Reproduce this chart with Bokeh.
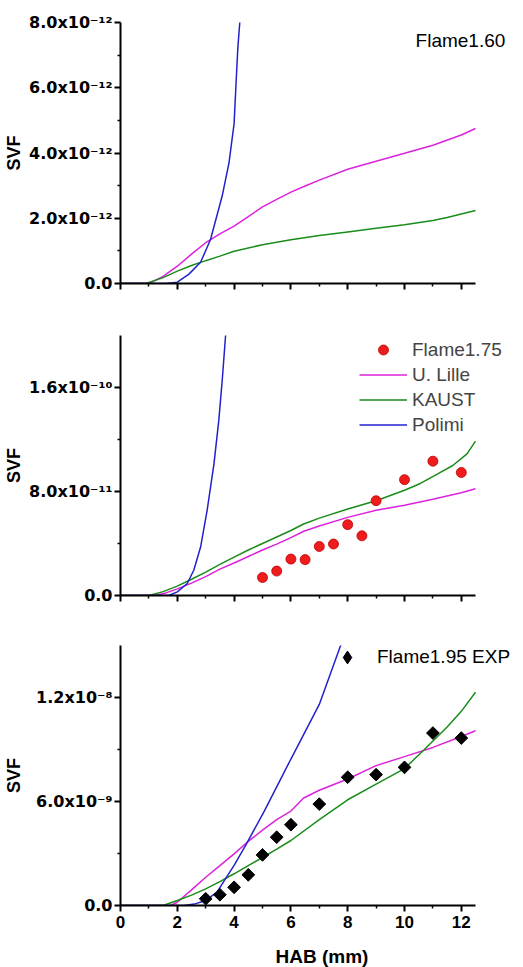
import numpy as np
from bokeh.plotting import figure
from bokeh.layouts import column
from bokeh.models import Range1d, FixedTicker, Label, Legend, LegendItem
from bokeh.embed import file_html
from bokeh.resources import INLINE

# ---------------- data ----------------
# x ticks (HAB, mm)
x_ticks = [0, 2, 4, 6, 8, 10, 12]
x_minor = [1, 3, 5, 7, 9, 11]
x_labels = ["0", "2", "4", "6", "8", "10", "12"]

# Panel 1: Flame1.60 (values x 1e-12)
p1_scale = 1e-12
lille1_x = [0, 1.0, 1.5, 2, 2.5, 3, 3.5, 4, 4.5, 5, 5.5, 6, 6.5, 7, 8, 9, 10, 11, 12, 12.5]
lille1_y = [0, 0, 0.22, 0.53, 0.9, 1.25, 1.52, 1.76, 2.05, 2.35, 2.58, 2.8, 2.99, 3.17, 3.5, 3.75, 3.99, 4.24, 4.55, 4.75]
kaust1_x = [0, 0.9, 1.5, 2, 2.5, 3, 3.5, 4, 5, 6, 7, 8, 9, 10, 11, 11.5, 12, 12.5]
kaust1_y = [0, 0, 0.18, 0.38, 0.55, 0.7, 0.84, 0.99, 1.19, 1.34, 1.47, 1.58, 1.69, 1.8, 1.93, 2.02, 2.13, 2.24]
polimi1_x = [0, 1.6, 2, 2.4, 2.82, 3.17, 3.58, 3.82, 4.0, 4.07, 4.13, 4.2, 4.25]
polimi1_y = [0, 0, 0.04, 0.28, 0.65, 1.35, 2.68, 3.7, 4.9, 6.16, 7.2, 8.0, 8.6]
y1_ticks = [0, 2e-12, 4e-12, 6e-12, 8e-12]
y1_minor = [1e-12, 3e-12, 5e-12, 7e-12]
y1_labels = ["0.0", "2.0x10\u207b\u00b9\u00b2", "4.0x10\u207b\u00b9\u00b2", "6.0x10\u207b\u00b9\u00b2", "8.0x10\u207b\u00b9\u00b2"]

# Panel 2: Flame1.75 (values x 1e-11)
p2_scale = 1e-11
exp175_x = [5, 5.5, 6, 6.5, 7, 7.5, 8, 8.5, 9, 10, 11, 12]
exp175_y = [1.38, 1.88, 2.8, 2.76, 3.77, 3.96, 5.45, 4.59, 7.29, 8.91, 10.33, 9.46]
lille2_x = [0, 1.2, 1.6, 2, 2.5, 3, 3.5, 4, 4.5, 5, 5.5, 6, 6.45, 7, 8, 9, 10, 11, 12, 12.5]
lille2_y = [0, 0, 0.2, 0.51, 0.95, 1.45, 2.03, 2.5, 3.0, 3.5, 3.95, 4.45, 4.94, 5.35, 6.01, 6.55, 6.95, 7.4, 7.9, 8.21]
kaust2_x = [0, 1.0, 1.5, 2, 2.5, 3, 3.5, 4, 4.5, 5, 5.5, 6, 6.45, 7, 8, 9, 10, 10.56, 11.2, 11.7, 12.2, 12.5]
kaust2_y = [0, 0, 0.3, 0.72, 1.25, 1.8, 2.4, 2.95, 3.5, 4.0, 4.5, 5.0, 5.5, 5.95, 6.65, 7.29, 8.1, 8.62, 9.4, 10.0, 10.9, 11.87]
polimi2_x = [0, 1.7, 2, 2.35, 2.58, 2.82, 3.05, 3.29, 3.46, 3.58, 3.7, 3.75]
polimi2_y = [0, 0, 0.28, 0.92, 1.94, 3.73, 6.55, 10.1, 13.45, 16.5, 20.0, 21.5]
y2_ticks = [0, 8e-11, 1.6e-10]
y2_minor = [4e-11, 1.2e-10]
y2_labels = ["0.0", "8.0x10\u207b\u00b9\u00b9", "1.6x10\u207b\u00b9\u2070"]

# Panel 3: Flame1.95 (values x 1e-9)
p3_scale = 1e-9
exp195_x = [3, 3.5, 4, 4.5, 5, 5.5, 6, 7, 8, 9, 10, 11, 12]
exp195_y = [0.39, 0.62, 1.05, 1.77, 2.92, 3.94, 4.66, 5.85, 7.4, 7.55, 7.97, 9.95, 9.66]
lille3_x = [0, 1.76, 2, 2.5, 3, 3.5, 4, 4.5, 5, 5.5, 6, 6.45, 7, 8, 9, 10, 11, 12, 12.5]
lille3_y = [0, 0, 0.19, 0.9, 1.63, 2.3, 2.98, 3.7, 4.35, 4.95, 5.45, 6.2, 6.65, 7.3, 8.07, 8.59, 9.12, 9.75, 10.08]
kaust3_x = [0, 1.5, 2, 2.5, 3, 3.5, 4, 4.5, 5, 5.5, 6, 7, 8, 9, 10, 10.7, 11.5, 12, 12.5]
kaust3_y = [0, 0, 0.29, 0.6, 0.96, 1.38, 1.83, 2.3, 2.77, 3.25, 3.75, 4.95, 6.1, 7.0, 7.9, 9.0, 10.3, 11.2, 12.3]
polimi3_x = [0, 2.23, 2.6, 3.0, 3.4, 3.66, 4.0, 4.4, 5.05, 6, 7, 7.75, 7.9]
polimi3_y = [0, 0, 0.08, 0.29, 0.77, 1.45, 2.31, 3.46, 5.4, 8.45, 11.6, 15.0, 15.5]
y3_ticks = [0, 6e-9, 1.2e-8]
y3_minor = [3e-9, 9e-9]
y3_labels = ["0.0", "6.0x10\u207b\u2079", "1.2x10\u207b\u2078"]

C_LILLE = "#dd22dd"
C_KAUST = "#1a8c1a"
C_POLIMI = "#2222cc"
FONT = "Liberation Sans"
TICK_FONT = "DejaVu Sans"

X_END = 12.5          # where the drawn x axis stops
X_VIEW = 14.19        # frame extends to the right for the legends / labels


def scaled(vals, s):
    return [v * s for v in vals]


def make_fig(ymax, yt, ym, ylab, top, fh, bottom, show_x, ylabel_standoff):
    p = figure(output_backend="svg", toolbar_location=None,
               frame_width=403, frame_height=fh,
               x_range=Range1d(0, X_VIEW), y_range=Range1d(0, ymax),
               min_border_left=120, min_border_right=0,
               min_border_top=top, min_border_bottom=bottom)
    p.outline_line_color = None
    p.xgrid.visible = False
    p.ygrid.visible = False
    for ax in (p.xaxis[0], p.yaxis[0]):
        ax.axis_line_width = 2
        ax.axis_line_color = "black"
        ax.major_tick_line_width = 2
        ax.major_tick_in = 0
        ax.major_tick_out = 6
        ax.minor_tick_line_width = 1.5
        ax.minor_tick_in = 0
        ax.minor_tick_out = 3
        ax.major_label_text_font_style = "bold"
        ax.major_label_text_color = "black"
        ax.axis_label_text_font = FONT
        ax.axis_label_text_font_style = "bold"
        ax.axis_label_text_color = "black"
    p.xaxis.bounds = (0, X_END)
    p.xaxis.ticker = FixedTicker(ticks=x_ticks, minor_ticks=x_minor)
    p.xaxis.major_label_text_font = FONT
    p.xaxis.major_label_text_font_size = "17px"
    p.xaxis.major_label_standoff = 4
    p.yaxis.ticker = FixedTicker(ticks=yt, minor_ticks=ym)
    p.yaxis.major_label_overrides = {t: l for t, l in zip(yt, ylab)}
    p.yaxis.major_label_text_font = TICK_FONT
    p.yaxis.major_label_text_font_size = "16px"
    p.yaxis.major_label_standoff = 2
    p.yaxis.axis_label = "SVF"
    p.yaxis.axis_label_text_font_size = "18px"
    p.yaxis.axis_label_standoff = ylabel_standoff
    if show_x:
        p.xaxis.major_label_overrides = {t: l for t, l in zip(x_ticks, x_labels)}
        p.xaxis.axis_label = "HAB (mm)"
        p.xaxis.axis_label_text_font_size = "19px"
        p.xaxis.axis_label_standoff = 15
    else:
        p.xaxis.major_label_overrides = {t: "" for t in x_ticks}
    return p


# ---------- panel 1 ----------
p1 = make_fig(8e-12, y1_ticks, y1_minor, y1_labels, 22, 261, 33, False, 2)
p1.line(lille1_x, scaled(lille1_y, p1_scale), line_color=C_LILLE, line_width=1.5)
p1.line(kaust1_x, scaled(kaust1_y, p1_scale), line_color=C_KAUST, line_width=1.5)
p1.line(polimi1_x, scaled(polimi1_y, p1_scale), line_color=C_POLIMI, line_width=1.5)
p1.add_layout(Label(x=10.39, y=7.45e-12, text="Flame1.60", text_font=FONT,
                    text_font_size="19px", text_baseline="middle", text_color="black"))

# ---------- panel 2 ----------
p2 = make_fig(2e-10, y2_ticks, y2_minor, y2_labels, 19, 260, 32, False, 2)
r_l2 = p2.line(lille2_x, scaled(lille2_y, p2_scale), line_color=C_LILLE, line_width=1.5)
r_k2 = p2.line(kaust2_x, scaled(kaust2_y, p2_scale), line_color=C_KAUST, line_width=1.5)
r_p2 = p2.line(polimi2_x, scaled(polimi2_y, p2_scale), line_color=C_POLIMI, line_width=1.5)
r_e2 = p2.scatter(exp175_x, scaled(exp175_y, p2_scale), marker="circle", size=10,
                  fill_color="#ee1c1c", line_color="#c00000", line_width=0.8)
leg2 = Legend(items=[LegendItem(label="Flame1.75", renderers=[r_e2]),
                     LegendItem(label="U. Lille", renderers=[r_l2]),
                     LegendItem(label="KAUST", renderers=[r_k2]),
                     LegendItem(label="Polimi", renderers=[r_p2])],
              location=(239, 158), padding=0, margin=0, spacing=0,
              glyph_width=48, glyph_height=25, label_height=25, label_standoff=5,
              label_text_font=FONT, label_text_font_size="19px",
              border_line_color=None, background_fill_alpha=0)
p2.add_layout(leg2)

# ---------- panel 3 ----------
p3 = make_fig(1.5e-8, y3_ticks, y3_minor, y3_labels, 18, 260, 62, True, 9)
p3.line(lille3_x, scaled(lille3_y, p3_scale), line_color=C_LILLE, line_width=1.5)
p3.line(kaust3_x, scaled(kaust3_y, p3_scale), line_color=C_KAUST, line_width=1.5)
p3.line(polimi3_x, scaled(polimi3_y, p3_scale), line_color=C_POLIMI, line_width=1.5)
p3.scatter(exp195_x, scaled(exp195_y, p3_scale), marker="square", angle=np.pi / 4,
           size=9, fill_color="black", line_color="black")
# legend swatch renderer (a single non-drawn point) so the key shows a diamond
r_key3 = p3.scatter(x=[np.nan], y=[np.nan], marker="diamond", size=18,
                    fill_color="black", line_color="black")
leg3 = Legend(items=[LegendItem(label="Flame1.95 EXP", renderers=[r_key3])],
              location=(211, 232), padding=0, margin=0, spacing=0,
              glyph_width=32, glyph_height=32, label_height=32, label_standoff=14,
              label_text_font=FONT, label_text_font_size="19px", label_text_color="black",
              border_line_color=None, background_fill_alpha=0)
p3.add_layout(leg3)

layout = column(p1, p2, p3, spacing=0)
open("out.html", "w").write(file_html(layout, INLINE))
